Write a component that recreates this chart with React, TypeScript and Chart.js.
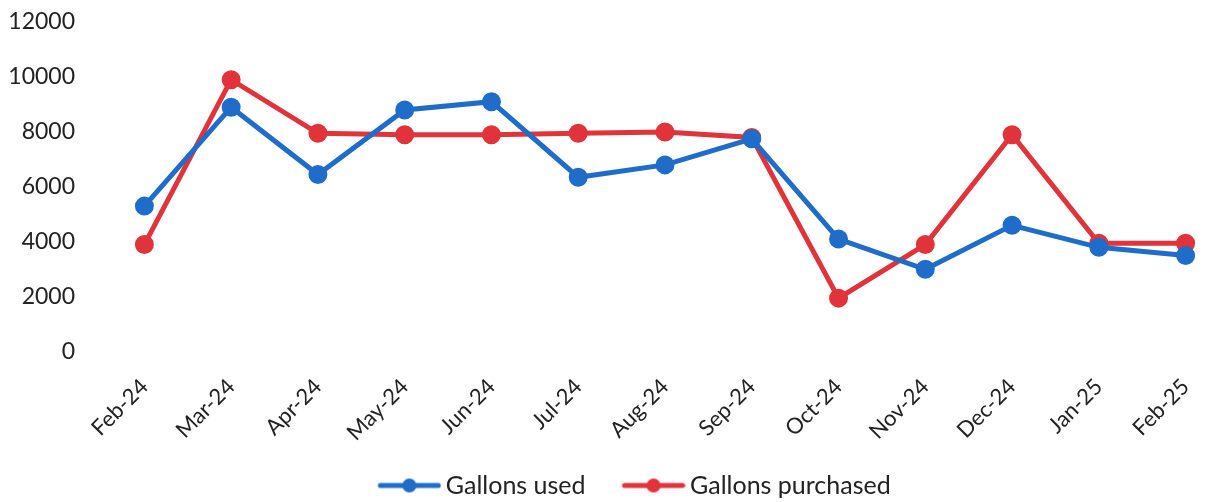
import React, { useEffect, useRef } from "react";
import { Chart, registerables } from "chart.js";

Chart.register(...registerables);

const categories = ["Feb-24", "Mar-24", "Apr-24", "May-24", "Jun-24", "Jul-24", "Aug-24", "Sep-24", "Oct-24", "Nov-24", "Dec-24", "Jan-25", "Feb-25"];
const gallonsUsed = [5300, 8900, 6450, 8800, 9100, 6350, 6800, 7750, 4100, 3000, 4600, 3800, 3500];
const gallonsPurchased = [3900, 9900, 7950, 7900, 7900, 7950, 8000, 7800, 1950, 3900, 7900, 3950, 3950];
const yTicks = [0, 2000, 4000, 6000, 8000, 10000, 12000];

const BLUE = "#1f6cc9";
const RED = "#e0333a";
const FONT = "Lato, 'Open Sans', sans-serif";

const BOX_W = 87;
const MARGIN_L = BOX_W - 48;

function legendMarker(color: string): HTMLCanvasElement {
  const c = document.createElement("canvas");
  c.width = MARGIN_L + 64;
  c.height = 16;
  const ctx = c.getContext("2d")!;
  ctx.strokeStyle = color;
  ctx.lineWidth = 5;
  ctx.lineCap = "round";
  ctx.beginPath();
  ctx.moveTo(MARGIN_L + 3, 8);
  ctx.lineTo(MARGIN_L + 61, 8);
  ctx.stroke();
  ctx.fillStyle = color;
  ctx.beginPath();
  ctx.arc(MARGIN_L + 32, 8, 7, 0, Math.PI * 2);
  ctx.fill();
  return c;
}

export default function App() {
  const ref = useRef<HTMLCanvasElement | null>(null);
  useEffect(() => {
    document.body.style.margin = "0";
    const markers = [legendMarker(BLUE), legendMarker(RED)];
    const chart = new Chart(ref.current!, {
      type: "line",
      data: {
        labels: categories,
        datasets: [
          {
            label: "Gallons used",
            data: gallonsUsed,
            borderColor: BLUE,
            backgroundColor: BLUE,
            borderWidth: 5,
            pointRadius: 7,
            pointHoverRadius: 7,
            pointBackgroundColor: BLUE,
            pointBorderColor: BLUE,
            tension: 0,
          },
          {
            label: "Gallons purchased",
            data: gallonsPurchased,
            borderColor: RED,
            backgroundColor: RED,
            borderWidth: 5,
            pointRadius: 7,
            pointHoverRadius: 7,
            pointBackgroundColor: RED,
            pointBorderColor: RED,
            tension: 0,
          },
        ],
      },
      options: {
        animation: false,
        responsive: false,
        layout: { autoPadding: false, padding: { left: 8, right: 1, top: 0, bottom: -6 } },
        scales: {
          x: {
            offset: true,
            grid: { display: false, drawTicks: false },
            border: { display: false },
            afterFit: (s: any) => {
              s.paddingLeft = 0;
              s.paddingRight = 0;
            },
            ticks: {
              minRotation: 45,
              maxRotation: 45,
              padding: 22,
              color: "#222",
              font: { family: FONT, size: 22 },
            },
          },
          y: {
            min: 0,
            max: 12000,
            afterBuildTicks: (axis: any) => {
              axis.ticks = yTicks.map((v) => ({ value: v }));
            },
            afterFit: (s: any) => {
              s.paddingTop = 22;
              s.paddingBottom = 0;
              s.width = 93;
            },
            grid: { display: false, drawTicks: false },
            border: { display: false },
            ticks: {
              padding: 26,
              color: "#222",
              font: { family: FONT, size: 23 },
              callback: (v: any) => String(v),
            },
          },
        },
        plugins: {
          tooltip: { enabled: false },
          legend: {
            position: "bottom",
            labels: {
              color: "#222",
              font: { family: FONT, size: 25 },
              usePointStyle: true,
              pointStyleWidth: BOX_W,
              padding: 5,
              generateLabels: (ch: any) =>
                ch.data.datasets.map((ds: any, i: number) => ({
                  text: ds.label,
                  pointStyle: markers[i],
                  fillStyle: ds.borderColor,
                  strokeStyle: ds.borderColor,
                  lineWidth: 0,
                  hidden: false,
                  datasetIndex: i,
                  fontColor: "#222",
                })),
            },
          },
        },
      },
    });
    return () => chart.destroy();
  }, []);
  return (
    <div style={{ width: 1230, height: 502 }}>
      <canvas ref={ref} width={1230} height={502} style={{ display: "block" }} />
    </div>
  );
}
